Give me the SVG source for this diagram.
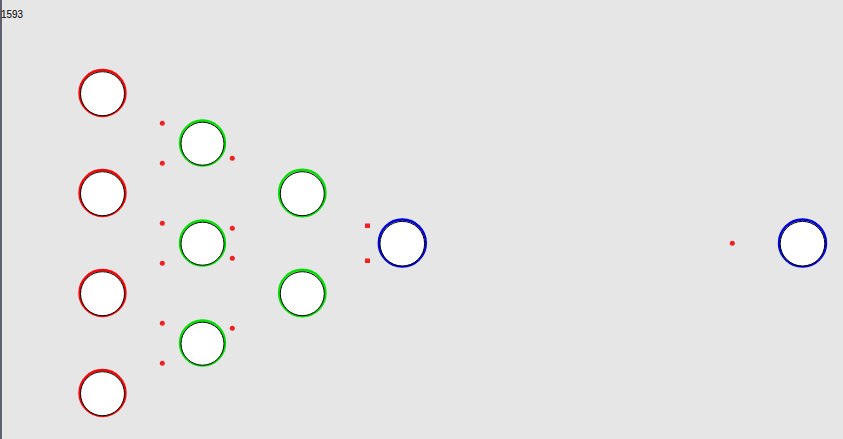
<svg xmlns="http://www.w3.org/2000/svg" width="843" height="439" viewBox="0 0 843 439">
<style>
.ring{fill:none;stroke-width:2.4}
.in{fill:#fff;stroke:#000;stroke-width:1}
.r{stroke:#ff0000}.g{stroke:#00e000}.b{stroke:#0000dd}
.dot{fill:#ee2222}
</style>
<defs>
<g id="nr"><circle class="ring r" cx="0" cy="0" r="23"/><circle class="in" cx="0" cy="0.7" r="22"/></g>
<g id="ng"><circle class="ring g" cx="0" cy="0" r="22.5"/><circle class="in" cx="0" cy="0.7" r="21.5"/></g>
<g id="ng2"><circle class="ring g" cx="0" cy="0" r="23.2"/><circle class="in" cx="0" cy="0.7" r="22"/></g>
<g id="nb"><circle class="ring b" cx="0" cy="0" r="23.5"/><circle class="in" cx="0" cy="0.7" r="22.3"/></g>
</defs>
<rect width="843" height="439" fill="#e6e6e6"/>
<rect x="0" y="0" width="2" height="439" fill="#5c6070"/>
<text x="1" y="18" font-family="Liberation Sans, sans-serif" font-size="10" textLength="22" lengthAdjust="spacingAndGlyphs" fill="#000">1593</text>
<g id="connectors">
<circle class="dot" cx="162.3" cy="123.3" r="2.5"/>
<circle class="dot" cx="162.3" cy="163.3" r="2.5"/>
<circle class="dot" cx="232.3" cy="158.3" r="2.5"/>
<circle class="dot" cx="162.3" cy="223.3" r="2.5"/>
<circle class="dot" cx="162.3" cy="263.3" r="2.5"/>
<circle class="dot" cx="232.3" cy="228.3" r="2.5"/>
<circle class="dot" cx="232.3" cy="258.3" r="2.5"/>
<circle class="dot" cx="162.3" cy="323.3" r="2.5"/>
<circle class="dot" cx="162.3" cy="363.3" r="2.5"/>
<circle class="dot" cx="232.3" cy="328.3" r="2.5"/>
<rect class="dot" x="365" y="223.5" width="5" height="4.5"/>
<rect class="dot" x="365" y="258.5" width="5" height="4.5"/>
<circle class="dot" cx="732.3" cy="243.3" r="2.5"/>
</g>
<g id="in1"><use href="#nr" x="102.5" y="93"/></g>
<g id="in2"><use href="#nr" x="102.5" y="193"/></g>
<g id="in3"><use href="#nr" x="102.5" y="293"/></g>
<g id="in4"><use href="#nr" x="102.5" y="393"/></g>
<g id="h1"><use href="#ng" x="202.5" y="143"/></g>
<g id="h2"><use href="#ng" x="202.5" y="243"/></g>
<g id="h3"><use href="#ng" x="202.5" y="343"/></g>
<g id="h4"><use href="#ng2" x="302.3" y="193"/></g>
<g id="h5"><use href="#ng2" x="302.3" y="293"/></g>
<g id="o1"><use href="#nb" x="402.3" y="243"/></g>
<g id="o2"><use href="#nb" x="802.5" y="243"/></g>
</svg>
